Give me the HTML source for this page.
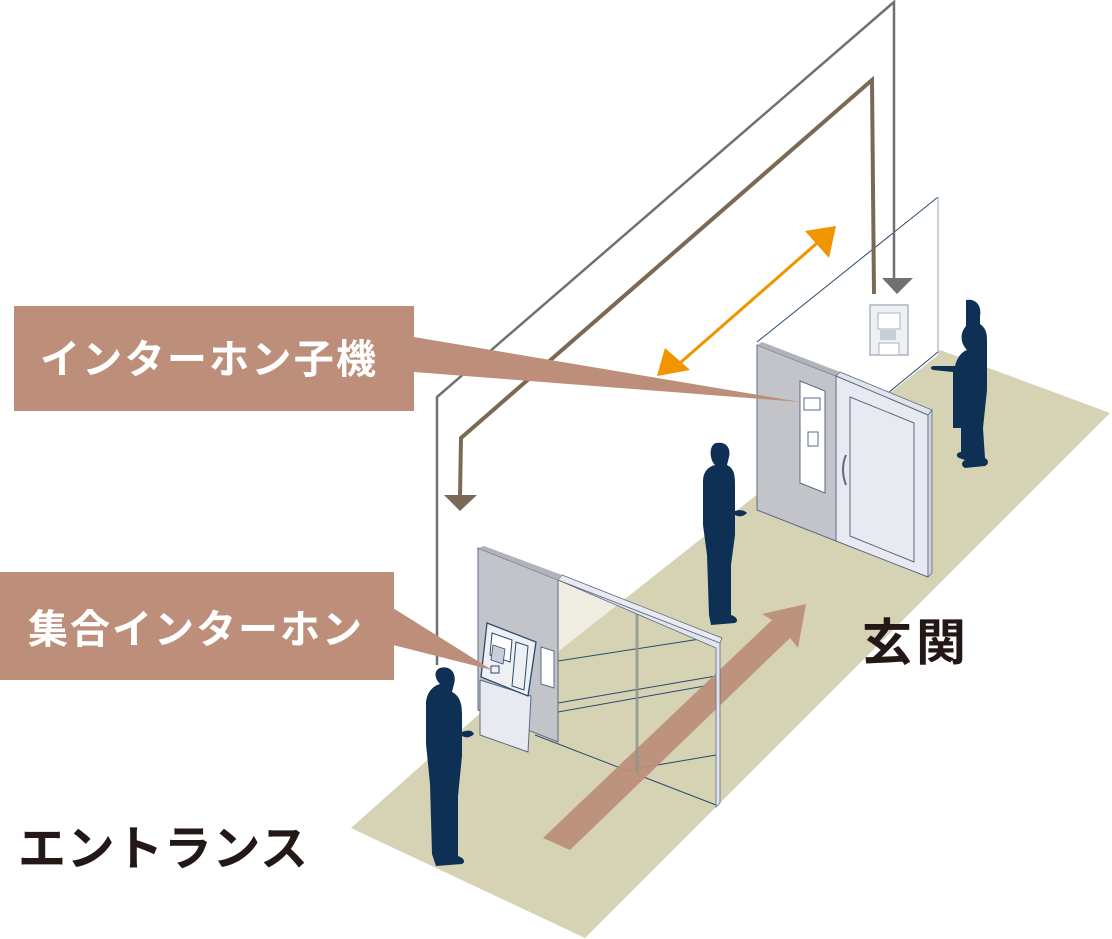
<!DOCTYPE html>
<html><head><meta charset="utf-8"><style>
html,body{margin:0;padding:0;background:#fff;}
svg{display:block;}
.lb{font-family:"Liberation Sans","Noto Sans CJK JP",sans-serif;font-weight:bold;}
</style></head><body>
<svg width="1112" height="939" viewBox="0 0 1112 939" xmlns="http://www.w3.org/2000/svg">
<polygon points="351,828 585,938 1110,413 940,350 478,715" fill="#d6d3b4"/>
<polygon points="757,342 938,197 938,355 890,393 757,500" fill="#fff"/>
<line x1="757" y1="342" x2="938" y2="197" stroke="#2a4a6e" stroke-width="1"/>
<line x1="938" y1="197" x2="938" y2="352" stroke="#b8c0cc" stroke-width="1.5"/>
<line x1="938" y1="352" x2="888" y2="393" stroke="#2a4a6e" stroke-width="1"/>
<rect x="870" y="305" width="38" height="50" fill="#eef0f4" stroke="#aab3c2" stroke-width="1.5"/>
<rect x="878" y="313" width="22" height="16" fill="#fff" stroke="#aab3c2"/>
<rect x="880" y="330" width="16" height="10" fill="#c9ced8"/>
<rect x="879" y="343" width="20" height="12" fill="#fff" stroke="#aab3c2"/>
<polyline points="437,665 437,397 894,2 894,280" fill="none" stroke="#707070" stroke-width="2.5"/>
<polygon points="882,278 913,278 897,294" fill="#707070"/>
<polyline points="874,294 872,80 461,438 460,497" fill="none" stroke="#7a6a55" stroke-width="4"/>
<polygon points="444,495 477,495 460,511" fill="#7a6a55"/>
<line x1="672" y1="370" x2="824" y2="237" stroke="#f09400" stroke-width="3"/>
<polygon points="836,226 805,231 829,258" fill="#f09400"/>
<polygon points="657,376 690,370 665,348" fill="#f09400"/>
<polygon points="757,345 836,376 836,541 757,510" fill="#c2c4ca" stroke="#5a6b85" stroke-width="1"/>
<polygon points="757,345 762,342 840,372 836,376" fill="#b0b3ba"/>
<polygon points="836,376 840,372 932,410 928,415" fill="#e2e4ec" stroke="#5a6b85" stroke-width="0.8"/>
<polygon points="836,376 928,415 928,577 836,541" fill="#e9e9f1" stroke="#5a6b85" stroke-width="1"/>
<polygon points="928,415 932,410 932,573 928,577" fill="#cfd2da" stroke="#5a6b85" stroke-width="0.8"/>
<polygon points="850,397 914,423 914,562 850,536" fill="none" stroke="#5a6b85" stroke-width="1"/>
<path d="M846,455 q-6,14 0,30" fill="none" stroke="#5a6b85" stroke-width="2"/>
<polygon points="800,381 825,391 825,493 800,483" fill="#fff" stroke="#5a6b85" stroke-width="1"/>
<rect x="804" y="398" width="16" height="12" fill="none" stroke="#5a6b85"/>
<rect x="808" y="432" width="10" height="14" fill="none" stroke="#5a6b85"/>
<polygon points="414,337 414,372 800,402" fill="#bd8f7a"/>
<rect x="14" y="306" width="400" height="105" fill="#bd8f7a"/>
<text x="40" y="373" class="lb" font-size="40" fill="#fff" textLength="336">インターホン子機</text>
<polygon points="558,580 720,643 716,805 558,742" fill="#d6d3b4" fill-opacity="0.4"/>
<line x1="558" y1="661" x2="713" y2="637" stroke="#2a4a6e" stroke-width="1"/>
<line x1="558" y1="703" x2="716" y2="676" stroke="#2a4a6e" stroke-width="1"/>
<line x1="558" y1="712" x2="716" y2="684" stroke="#2a4a6e" stroke-width="1"/>
<line x1="628" y1="770" x2="716" y2="755" stroke="#2a4a6e" stroke-width="1"/>
<line x1="535" y1="735" x2="716" y2="805" stroke="#2a4a6e" stroke-width="1"/>
<polygon points="543,838 570,850 790,638 798,648 806,604 762,614 772,620" fill="#bd8f7a" fill-opacity="0.95"/>
<line x1="637" y1="614" x2="637" y2="772" stroke="#8c9490" stroke-width="3" opacity="0.8"/>
<polygon points="558,580 720,643 720,803 716,807 716,648" fill="#e2e4ec" stroke="#5a6b85" stroke-width="0.8"/>
<polygon points="558,580 562,575 722,638 720,643" fill="#e9e9f1" stroke="#5a6b85" stroke-width="0.8"/>
<polygon points="478,548 558,580 558,742 478,710" fill="#c2c4ca" stroke="#5a6b85" stroke-width="1"/>
<polygon points="478,548 484,546 562,575 558,580" fill="#b0b3ba"/>
<polygon points="541,647 554,651 554,688 541,684" fill="#fff" stroke="#5a6b85"/>
<polygon points="480,680 531,696 528,752 480,735" fill="#e9e9f1" stroke="#5a6b85" stroke-width="1"/>
<polygon points="487,623 536,642 528,696 481,677" fill="#eef0f4" stroke="#2a4a6e" stroke-width="1.3"/>
<polygon points="492,633 512,640 510,662 490,655" fill="#fff" stroke="#2a4a6e"/>
<polygon points="493,645 505,649 503,664 491,660" fill="#c9ced8" stroke="#2a4a6e" stroke-width="0.8"/>
<polygon points="516,642 528,646 524,690 512,686" fill="none" stroke="#2a4a6e"/>
<rect x="491" y="666" width="8" height="7" fill="none" stroke="#2a4a6e"/>
<polygon points="393,608 393,645 492,670" fill="#bd8f7a"/>
<rect x="0" y="572" width="394" height="108" fill="#bd8f7a"/>
<text x="28" y="643" class="lb" font-size="40" fill="#fff" textLength="334">集合インターホン</text>
<g fill="#0f3055">
<path d="M440,668 c11,-3 17,6 14,16 l-2,8 c8,4 10,12 10,22 l0,18 c6,-2 10,-2 12,2 c-4,4 -8,4 -12,2 l0,20 l-4,40 l0,60 c6,2 8,6 4,8 l-26,2 l-4,-12 l-2,-70 l-4,-40 l0,-40 c0,-10 6,-18 14,-20 c-6,-6 -6,-14 0,-16z"/>
<path d="M716,443 c11,-2 15,6 13,14 l-2,8 c6,3 8,8 8,18 l0,28 c6,-2 10,0 12,2 c-4,4 -8,4 -12,2 l0,20 l-4,30 l0,50 c6,2 8,6 4,8 l-24,2 l-2,-10 l-2,-60 l-4,-30 l0,-44 c0,-8 4,-14 12,-16 c-6,-6 -6,-20 1,-22z"/>
<path d="M966,300 c10,-2 16,6 14,16 l0,8 c6,4 7,10 7,16 l0,50 l-4,38 l2,30 c4,2 4,6 0,8 l-20,2 c-4,-2 -4,-6 0,-8 l-6,-2 c-4,-2 -2,-6 2,-6 l0,-24 l-8,0 l0,-42 l0,-14 l-20,-2 c-4,-2 -2,-4 2,-4 l20,0 c2,-8 6,-14 12,-16 c-6,-6 -8,-16 -1,-24z"/>
</g>
<text x="18" y="865" class="lb" font-size="48" fill="#231815" textLength="290">エントランス</text>
<text x="862" y="660" class="lb" font-size="50" fill="#231815" textLength="104">玄関</text>
</svg>
</body></html>
